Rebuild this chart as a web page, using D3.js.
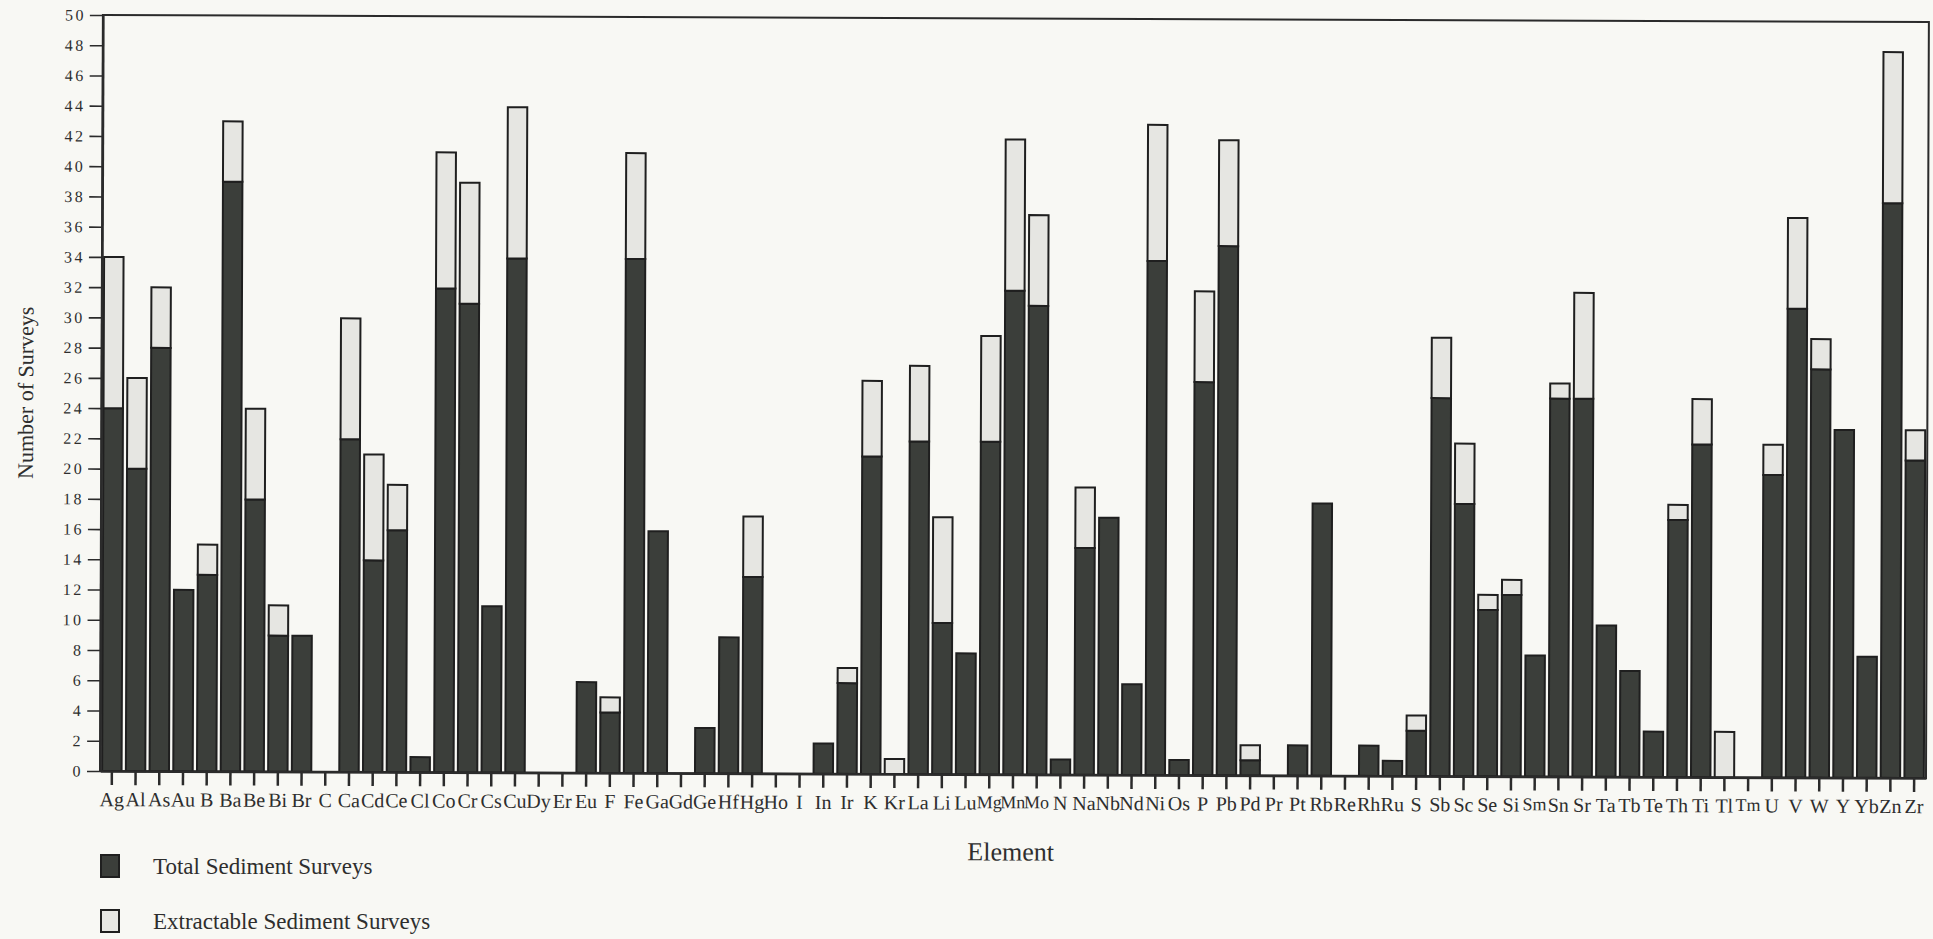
<!DOCTYPE html>
<html>
<head>
<meta charset="utf-8">
<script src="https://cdn.jsdelivr.net/npm/d3@7"></script>
<style>
  html, body { margin: 0; padding: 0; background: #f8f8f4; }
  svg { display: block; }
  text { font-family: "Liberation Serif", "Times New Roman", serif; fill: #2e2e2e; }
</style>
</head>
<body>
<svg id="chart" width="1933" height="939"></svg>
<script>
// ---- data ----
const elements = ["Ag","Al","As","Au","B","Ba","Be","Bi","Br","C","Ca","Cd","Ce","Cl","Co","Cr","Cs","Cu","Dy","Er","Eu","F","Fe","Ga","Gd","Ge","Hf","Hg","Ho","I","In","Ir","K","Kr","La","Li","Lu","Mg","Mn","Mo","N","Na","Nb","Nd","Ni","Os","P","Pb","Pd","Pr","Pt","Rb","Re","Rh","Ru","S","Sb","Sc","Se","Si","Sm","Sn","Sr","Ta","Tb","Te","Th","Ti","Tl","Tm","U","V","W","Y","Yb","Zn","Zr"];
const totalSurveys = [24,20,28,12,13,39,18,9,9,0,22,14,16,1,32,31,11,34,0,0,6,4,34,16,0,3,9,13,0,0,2,6,21,0,22,10,8,22,32,31,1,15,17,6,34,1,26,35,1,0,2,18,0,2,1,3,25,18,11,12,8,25,25,10,7,3,17,22,0,0,20,31,27,23,8,38,21];
const extractableSurveys = [10,6,4,0,2,4,6,2,0,0,8,7,3,0,9,8,0,10,0,0,0,1,7,0,0,0,0,4,0,0,0,1,5,1,5,7,0,7,10,6,0,4,0,0,9,0,6,7,1,0,0,0,0,0,0,1,4,4,1,1,0,1,7,0,0,0,1,3,3,0,2,6,2,0,0,10,2];
const yTickValues = d3.range(0, 51, 2);
const seriesNames = ["Total Sediment Surveys", "Extractable Sediment Surveys"];

// ---- layout ----
const plotLeft = 100, plotRight = 1926, plotTop = 15, plotBottom = 771;
const darkFill = "#3b3e3a", lightFill = "#e6e6e2", edge = "#1f1f1f";

const svg = d3.select("#chart");
const plot = svg.append("g").attr("transform", `rotate(0.22, ${plotLeft}, ${plotBottom})`);

const x = d3.scaleBand().domain(elements).range([plotLeft, plotRight]).paddingInner(0.18).paddingOuter(0.09);
const y = d3.scaleLinear().domain([0, 50]).range([plotBottom, plotTop]);

const rows = elements.map((e, i) => ({ e, total: totalSurveys[i], extr: extractableSurveys[i] }));

// frame (top + right)
plot.append("rect")
  .attr("x", plotLeft).attr("y", plotTop)
  .attr("width", plotRight - plotLeft).attr("height", plotBottom - plotTop)
  .attr("fill", "none").attr("stroke", "#2b2b2b").attr("stroke-width", 2);

// dark (total) segments
plot.append("g").selectAll("rect")
  .data(rows.filter(d => d.total > 0))
  .join("rect")
  .attr("x", d => x(d.e))
  .attr("width", x.bandwidth())
  .attr("y", d => y(d.total))
  .attr("height", d => y(0) - y(d.total))
  .attr("fill", darkFill).attr("stroke", edge).attr("stroke-width", 2);

// light (extractable) segments stacked on top
plot.append("g").selectAll("rect")
  .data(rows.filter(d => d.extr > 0))
  .join("rect")
  .attr("x", d => x(d.e))
  .attr("width", x.bandwidth())
  .attr("y", d => y(d.total + d.extr))
  .attr("height", d => y(d.total) - y(d.total + d.extr))
  .attr("fill", lightFill).attr("stroke", edge).attr("stroke-width", 2);

// y axis
const yAxis = plot.append("g").attr("transform", `translate(${plotLeft},0)`)
  .call(d3.axisLeft(y).tickValues(yTickValues).tickSize(13).tickSizeOuter(0).tickPadding(4));
yAxis.select(".domain").attr("stroke", "#2b2b2b").attr("stroke-width", 2.5);
yAxis.selectAll(".tick line").attr("stroke", "#2b2b2b").attr("stroke-width", 1.6);
yAxis.selectAll(".tick text")
  .style("font-family", '"Liberation Serif", serif')
  .style("font-size", "16px").style("letter-spacing", "2.5px").attr("fill", "#3a3a3a");

// x axis
const xAxis = plot.append("g").attr("transform", `translate(0,${plotBottom})`)
  .call(d3.axisBottom(x).tickSize(14).tickSizeOuter(0).tickPadding(7));
xAxis.select(".domain").attr("stroke", "#2b2b2b").attr("stroke-width", 2.5);
xAxis.selectAll(".tick line").attr("stroke", "#2b2b2b").attr("stroke-width", 2.5);
const maxLabel = x.step() + 2;
xAxis.selectAll(".tick text")
  .style("font-family", '"Liberation Serif", serif')
  .style("font-size", "20px").attr("fill", "#2e2e2e")
  .each(function () {
    // the very wide labels (Mg, Mn, Mo) get a slightly smaller size so neighbours do not collide
    if (this.getComputedTextLength() > maxLabel) {
      d3.select(this).style("font-size", "18px");
    }
  });

// axis titles
plot.append("text")
  .attr("transform", `translate(24, ${(plotTop + plotBottom) / 2}) rotate(-90)`)
  .attr("text-anchor", "middle").attr("dy", "0.35em")
  .style("font-size", "22px")
  .text("Number of Surveys");

plot.append("text")
  .attr("x", (plotLeft + plotRight) / 2 - 2).attr("y", 857)
  .attr("text-anchor", "middle")
  .style("font-size", "26px")
  .text("Element");

// legend
const legend = svg.append("g");
const legendFills = [darkFill, lightFill];
seriesNames.forEach((name, i) => {
  const gy = 855 + i * 55;
  legend.append("rect")
    .attr("x", 101).attr("y", gy).attr("width", 18).attr("height", 22)
    .attr("fill", legendFills[i]).attr("stroke", edge).attr("stroke-width", 2);
  legend.append("text")
    .attr("x", 153).attr("y", gy + 19)
    .style("font-size", "23px")
    .text(name);
});
</script>
</body>
</html>
